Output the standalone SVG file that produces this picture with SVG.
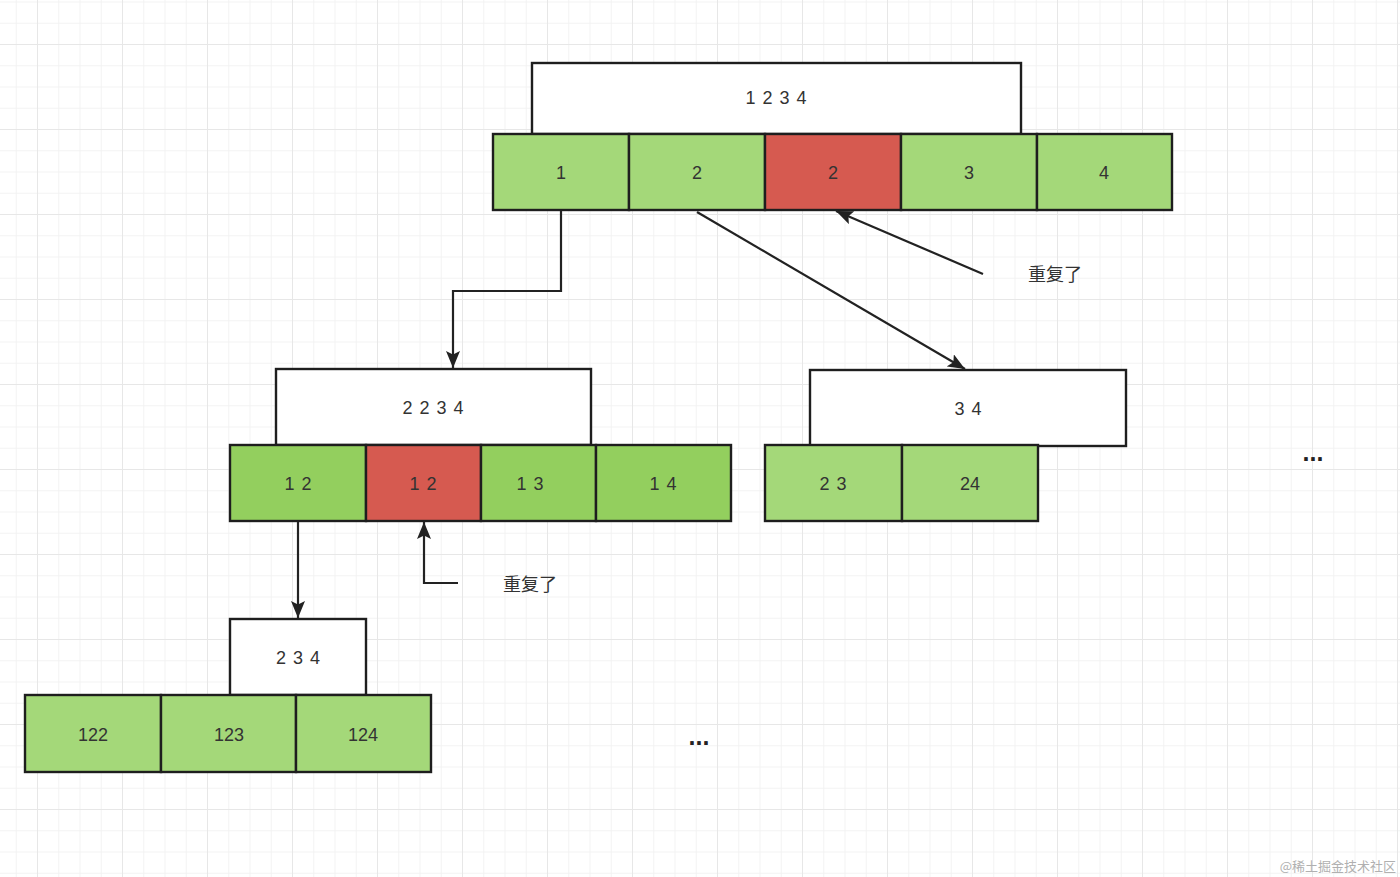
<svg xmlns="http://www.w3.org/2000/svg" width="1400" height="877" viewBox="0 0 1400 877">
<style>
.box{fill:#ffffff;stroke:#1e1e1e;stroke-width:2.4}
.g1{fill:#a4d879;stroke:#1e1e1e;stroke-width:2.4}
.g2{fill:#93cf5e;stroke:#1e1e1e;stroke-width:2.4}
.red{fill:#d65a50;stroke:#1e1e1e;stroke-width:2.4}
.t{font-family:"Liberation Sans","Noto Sans CJK SC",sans-serif;font-size:18px;fill:#333333;text-anchor:middle;word-spacing:2px}
.lbl{font-family:"Liberation Sans","Noto Sans CJK SC",sans-serif;font-size:18px;fill:#333333}
.dots{font-family:"Liberation Sans",sans-serif;font-size:25px;font-weight:bold;fill:#222222;text-anchor:middle}
.conn{fill:none;stroke:#222222;stroke-width:2.2;marker-end:url(#arrow)}
</style>
<defs>
<pattern id="grid" patternUnits="userSpaceOnUse" x="37" y="44" width="85" height="85">
<rect width="85" height="85" fill="#ffffff"/>
<g fill="#f3f3f3">
<rect x="21.25" y="0" width="1" height="85"/>
<rect x="42.5" y="0" width="1" height="85"/>
<rect x="63.75" y="0" width="1" height="85"/>
<rect x="0" y="21.25" width="85" height="1"/>
<rect x="0" y="42.5" width="85" height="1"/>
<rect x="0" y="63.75" width="85" height="1"/>
</g>
<rect x="0" y="0" width="1" height="85" fill="#e7e7e7"/>
<rect x="0" y="0" width="85" height="1" fill="#e7e7e7"/>
</pattern>
<marker id="arrow" markerUnits="userSpaceOnUse" markerWidth="18" markerHeight="14" refX="17" refY="7" orient="auto">
<path d="M0,0 L17,7 L0,14 L3.5,7 z" fill="#222222"/>
</marker>
</defs>
<rect width="1400" height="877" fill="url(#grid)"/>

<g id="node-1234">
<rect class="box" x="532" y="63" width="489" height="71"/>
<text class="t" x="776" y="104">1 2 3 4</text>
<rect class="g1" x="493" y="134" width="136" height="76"/>
<rect class="g1" x="629" y="134" width="136" height="76"/>
<rect class="red" x="765" y="134" width="136" height="76"/>
<rect class="g1" x="901" y="134" width="136" height="76"/>
<rect class="g1" x="1037" y="134" width="135" height="76"/>
<text class="t" x="561" y="179">1</text>
<text class="t" x="697" y="179">2</text>
<text class="t" x="833" y="179">2</text>
<text class="t" x="969" y="179">3</text>
<text class="t" x="1104" y="179">4</text>
</g>

<g id="node-2234">
<rect class="box" x="276" y="369" width="315" height="76"/>
<text class="t" x="433" y="414">2 2 3 4</text>
<rect class="g2" x="230" y="445" width="136" height="76"/>
<rect class="red" x="366" y="445" width="115" height="76"/>
<rect class="g2" x="481" y="445" width="115" height="76"/>
<rect class="g2" x="596" y="445" width="135" height="76"/>
<text class="t" x="298" y="490">1 2</text>
<text class="t" x="423" y="490">1 2</text>
<text class="t" x="530" y="490">1 3</text>
<text class="t" x="663" y="490">1 4</text>
</g>

<g id="node-34">
<rect class="box" x="810" y="370" width="316" height="76"/>
<text class="t" x="968" y="415">3 4</text>
<rect class="g1" x="765" y="445" width="137" height="76"/>
<rect class="g1" x="902" y="445" width="136" height="76"/>
<text class="t" x="833" y="490">2 3</text>
<text class="t" x="970" y="490">24</text>
</g>

<g id="node-234">
<rect class="box" x="230" y="619" width="136" height="76"/>
<text class="t" x="298" y="664">2 3 4</text>
<rect class="g1" x="25" y="695" width="136" height="77"/>
<rect class="g1" x="161" y="695" width="135" height="77"/>
<rect class="g1" x="296" y="695" width="135" height="77"/>
<text class="t" x="93" y="741">122</text>
<text class="t" x="229" y="741">123</text>
<text class="t" x="363" y="741">124</text>
</g>

<g id="connectors">
<path class="conn" d="M561,211 V291 H453 V368"/>
<path class="conn" d="M697,212 L965,369"/>
<path class="conn" d="M983,274 L836,211"/>
<path class="conn" d="M298,522 V618"/>
<path class="conn" d="M458,583 H424 V522"/>
</g>

<g id="labels">
<text class="lbl" x="1028" y="281">重复了</text>
<text class="lbl" x="503" y="591">重复了</text>
<text class="dots" x="1313" y="461">...</text>
<text class="dots" x="699" y="745">...</text>
</g>

<text x="1396" y="871" font-family="'Noto Sans CJK SC',sans-serif" font-size="13" fill="#b0b0b0" text-anchor="end">@稀土掘金技术社区</text>
</svg>
